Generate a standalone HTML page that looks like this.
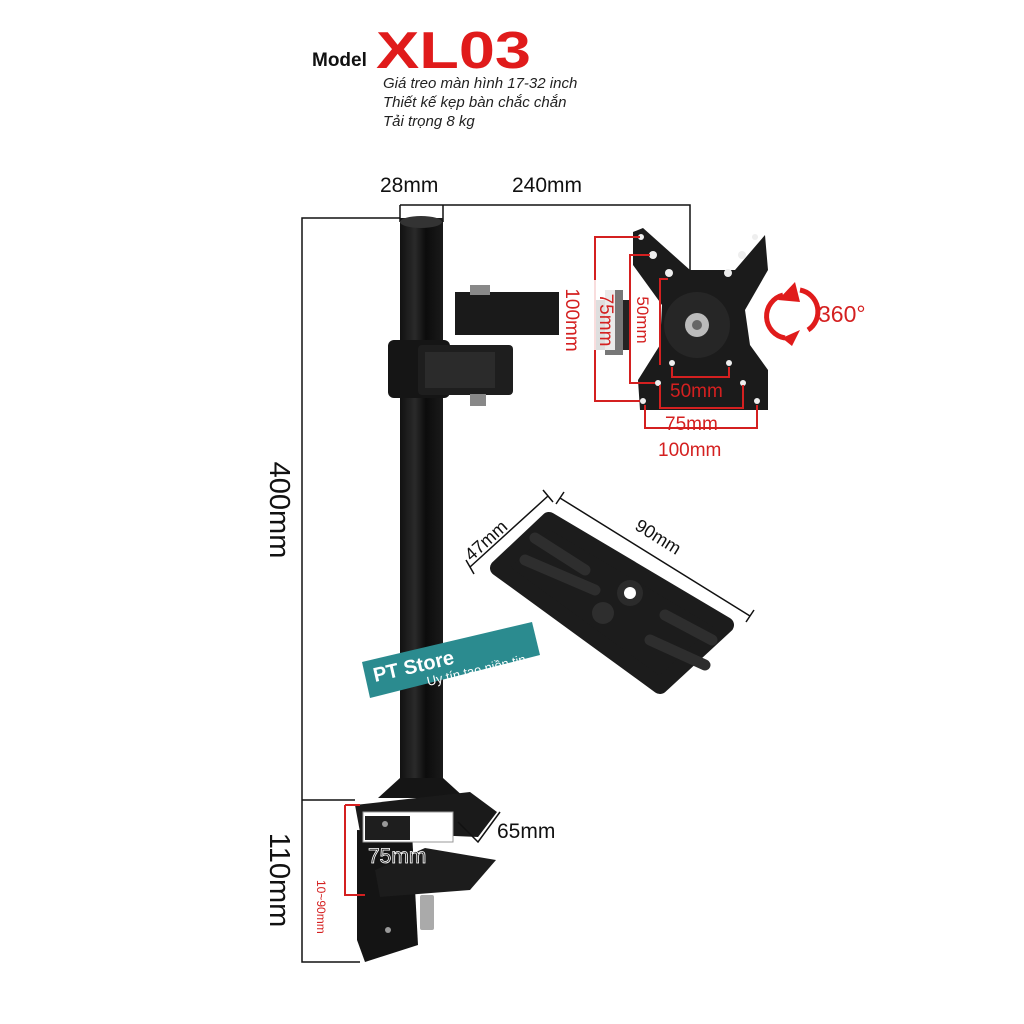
<!DOCTYPE html>
<html><head><meta charset="utf-8"><style>
html,body{margin:0;padding:0;background:#fff;}
svg{display:block;}
text{font-family:"Liberation Sans",sans-serif;}
</style></head><body>
<svg width="1024" height="1024" viewBox="0 0 1024 1024" xmlns="http://www.w3.org/2000/svg">
<defs>
<linearGradient id="pole" x1="0" x2="1" y1="0" y2="0">
<stop offset="0" stop-color="#111"/><stop offset="0.35" stop-color="#2a2a2a"/><stop offset="0.6" stop-color="#0c0c0c"/><stop offset="1" stop-color="#1a1a1a"/>
</linearGradient>
</defs>
<rect width="1024" height="1024" fill="#fff"/>
<!-- header -->
<text x="312" y="66" font-size="19" font-weight="bold" fill="#111">Model</text>
<text x="376" y="68" font-size="52" font-weight="bold" fill="#e01b1b" textLength="155" lengthAdjust="spacingAndGlyphs">XL03</text>
<text x="383" y="88" font-size="15" font-style="italic" fill="#222">Giá treo màn hình 17-32 inch</text>
<text x="383" y="107" font-size="15" font-style="italic" fill="#222">Thiết kế kẹp bàn chắc chắn</text>
<text x="383" y="126" font-size="15" font-style="italic" fill="#222">Tải trọng 8 kg</text>
<!-- top dims -->
<text x="380" y="192" font-size="21" fill="#111">28mm</text>
<text x="512" y="192" font-size="21" fill="#111">240mm</text>
<path d="M400 205 H690 V290" fill="none" stroke="#111" stroke-width="1.5"/>
<path d="M400 205 V222 M443 205 V222" stroke="#111" stroke-width="1.5"/>
<!-- left dims -->
<path d="M400 218 H302 V962 H360 M302 800 H355" fill="none" stroke="#111" stroke-width="1.5"/>
<text transform="translate(270,510) rotate(90)" font-size="29" fill="#111" text-anchor="middle">400mm</text>
<text transform="translate(270,880) rotate(90)" font-size="29" fill="#111" text-anchor="middle">110mm</text>
<!-- pole -->
<rect x="400" y="218" width="43" height="570" fill="url(#pole)"/>
<ellipse cx="421" cy="222" rx="21" ry="6" fill="#333"/>
<!-- upper arm -->
<rect x="455" y="292" width="115" height="43" fill="#1a1a1a"/>
<rect x="470" y="285" width="20" height="10" fill="#888"/>
<rect x="595" y="300" width="35" height="50" fill="#222"/>
<rect x="605" y="290" width="18" height="65" fill="#777"/>
<!-- collar & lower arm -->
<rect x="388" y="340" width="62" height="58" rx="6" fill="#151515"/>
<rect x="418" y="345" width="95" height="50" rx="4" fill="#1e1e1e"/>
<rect x="425" y="352" width="70" height="36" fill="#2b2b2b"/>
<rect x="470" y="394" width="16" height="12" fill="#888"/>
<!-- base -->
<path d="M400 778 L443 778 L465 798 L378 798 Z" fill="#151515"/>
<!-- clamp -->
<path d="M355 805 L470 792 L497 812 L478 837 L360 832 Z" fill="#1a1a1a"/>
<path d="M357 830 L412 832 L418 945 L365 962 L357 940 Z" fill="#141414"/>
<rect x="363" y="812" width="90" height="30" fill="#fff" stroke="#999" stroke-width="1"/>
<rect x="365" y="816" width="45" height="24" fill="#1e1e1e"/>
<path d="M375 870 L425 848 L496 860 L470 890 L380 897 Z" fill="#1c1c1c"/>
<rect x="420" y="895" width="14" height="35" rx="2" fill="#aaa"/>
<circle cx="385" cy="824" r="3" fill="#999"/>
<circle cx="388" cy="930" r="3" fill="#999"/>
<path d="M345 805 V895 H365 M345 805 H360" fill="none" stroke="#d42020" stroke-width="2"/>
<text transform="translate(317,880) rotate(90)" font-size="12" fill="#d42020">10~90mm</text>
<path d="M458 822 L478 842 L500 812" fill="none" stroke="#111" stroke-width="1.5"/>
<text x="497" y="838" font-size="21" fill="#111">65mm</text>
<text x="368" y="863" font-size="21" fill="#222" stroke="#fff" stroke-width="0.8">75mm</text>
<!-- VESA plate -->
<path d="M633 232 L643 228 L690 270 L735 270 L765 235 L768 270 L745 310 L750 345 L768 370 L768 410 L640 410 L638 380 L660 345 L662 305 L633 265 Z" fill="#1b1b1b"/>
<circle cx="697" cy="325" r="33" fill="#262626"/>
<circle cx="697" cy="325" r="12" fill="#bbb"/>
<circle cx="697" cy="325" r="5" fill="#666"/>
<g fill="#eee"><circle cx="641" cy="237" r="3"/><circle cx="653" cy="255" r="4"/><circle cx="669" cy="273" r="4"/><circle cx="728" cy="273" r="4"/><circle cx="742" cy="255" r="4"/><circle cx="755" cy="237" r="3"/><circle cx="672" cy="363" r="3"/><circle cx="729" cy="363" r="3"/><circle cx="658" cy="383" r="3"/><circle cx="743" cy="383" r="3"/><circle cx="643" cy="401" r="3"/><circle cx="757" cy="401" r="3"/></g>
<g fill="none" stroke="#d42020" stroke-width="2">
<path d="M640 237 H595 V401 H640"/>
<path d="M650 255 H630 V383 H655"/>
<path d="M668 279 H660 V365 M672 367 V377 H729 V367"/>
<path d="M660 385 V408 H743 V385"/>
<path d="M645 405 V428 H757 V405"/>
</g>
<rect x="559" y="276" width="22" height="86" fill="#fff"/>
<rect x="593" y="280" width="22" height="70" fill="#fff" opacity="0.85"/>
<text transform="translate(566,320) rotate(90)" font-size="19" fill="#d42020" text-anchor="middle">100mm</text>
<text transform="translate(600,320) rotate(90)" font-size="19" fill="#d42020" text-anchor="middle">75mm</text>
<text transform="translate(637,320) rotate(90)" font-size="17" fill="#d42020" text-anchor="middle">50mm</text>
<text x="670" y="397" font-size="19" fill="#d42020">50mm</text>
<text x="665" y="430" font-size="19" fill="#d42020">75mm</text>
<text x="658" y="456" font-size="19" fill="#d42020">100mm</text>
<!-- 360 -->
<path d="M783 295 A22 22 0 0 0 785 338" fill="none" stroke="#e01b1b" stroke-width="5"/>
<path d="M800 290 A22 22 0 0 1 808 330" fill="none" stroke="#e01b1b" stroke-width="5"/>
<path d="M778 300 L795 282 L800 302 Z M782 338 L800 330 L792 346 Z" fill="#e01b1b"/>
<text x="818" y="322" font-size="23" fill="#d42020">360°</text>
<!-- pad -->
<path d="M549 520 L726 625 L660 686 L498 568 Z" fill="#1c1c1c" stroke="#1c1c1c" stroke-width="16" stroke-linejoin="round"/>
<path d="M525 560 L595 590 M535 538 L585 570 M650 640 L705 665 M665 615 L712 640" stroke="#2e2e2e" stroke-width="11" stroke-linecap="round"/>
<circle cx="630" cy="593" r="13" fill="#2b2b2b"/><circle cx="630" cy="593" r="6" fill="#fff"/>
<circle cx="603" cy="613" r="11" fill="#2e2e2e"/>
<path d="M470 567 L548 496 M466 560 L474 574 M543 490 L553 502" stroke="#111" stroke-width="1.5"/>
<path d="M560 498 L750 616 M556 504 L564 492 M746 622 L754 610" stroke="#111" stroke-width="1.5"/>
<text transform="translate(490,545) rotate(-42)" font-size="18" fill="#111" text-anchor="middle">47mm</text>
<text transform="translate(655,542) rotate(32)" font-size="18" fill="#111" text-anchor="middle">90mm</text>
<!-- badge -->
<path d="M362 662 L532 622 L540 655 L370 698 Z" fill="#2b8b8f"/>
<text transform="translate(375,682) rotate(-13)" font-size="20" font-weight="bold" fill="#fff">PT Store</text>
<text transform="translate(428,686) rotate(-13)" font-size="13" fill="#fff">Uy tín tạo niền tin</text>
</svg>
</body></html>
